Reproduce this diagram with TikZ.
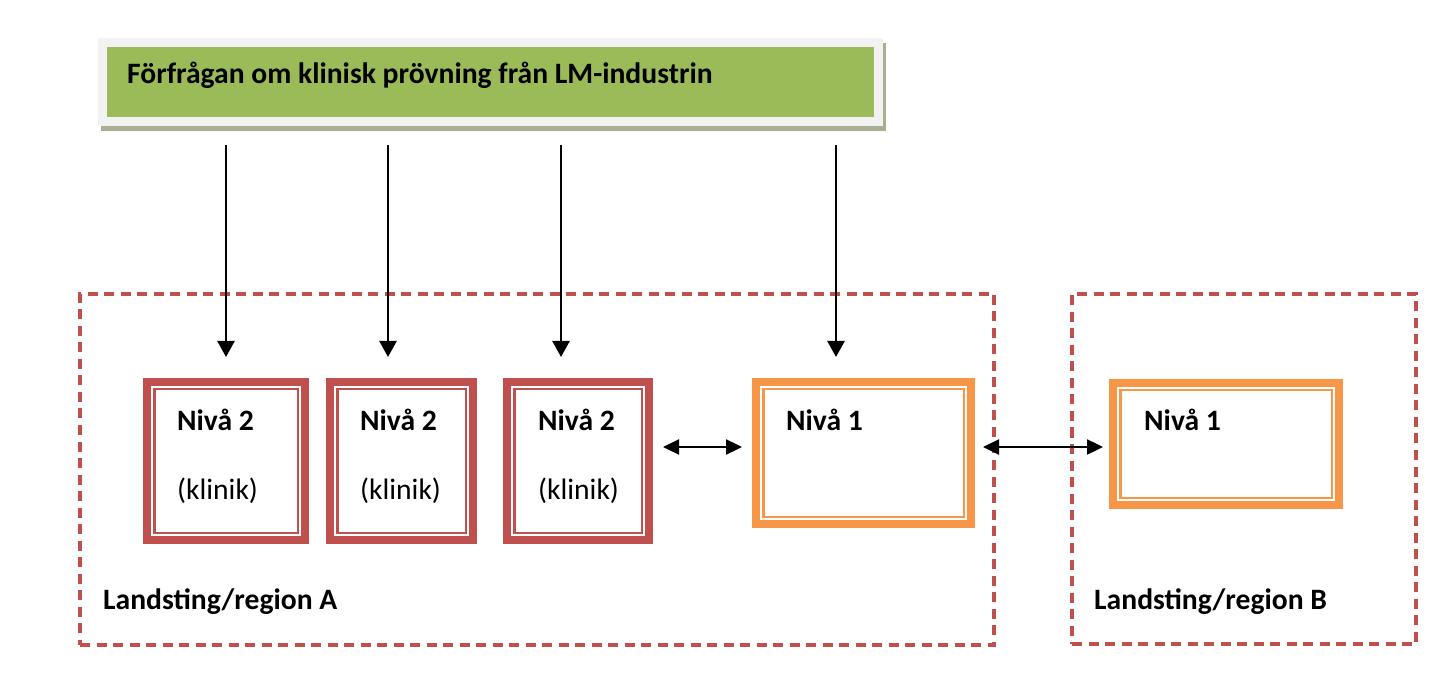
\documentclass[tikz,border=0pt]{standalone}
\usepackage{fontspec}
\setmainfont{Carlito}
\usetikzlibrary{arrows.meta,calc}
\definecolor{cred}{HTML}{C0504D}
\definecolor{corange}{HTML}{F79646}
\definecolor{cgreen}{HTML}{9BBB59}
\definecolor{cframe}{HTML}{F2F2F2}
\definecolor{cshadow}{HTML}{A8B091}
\begin{document}
\begin{tikzpicture}[x=1pt,y=-1pt,
  lbl/.style={inner sep=0pt, anchor=base west, font=\fontsize{29.6}{34}\selectfont},
  blbl/.style={lbl, font=\fontsize{29.6}{34}\selectfont\bfseries},
  tbox/.style={draw=#1, line width=8pt, fill=white, inner sep=0pt,
    path picture={\draw[#1, line width=2.5pt]
      ([xshift=7.25pt,yshift=-7.25pt]path picture bounding box.north west) rectangle
      ([xshift=-7.25pt,yshift=7.25pt]path picture bounding box.south east);}},
  region/.style={draw=cred, line width=3.5pt, dash pattern=on 10pt off 6.5pt, inner sep=0pt},
  varrow/.style={line width=2.4pt, -{Triangle[length=16pt,width=17pt]}},
  darrow/.style={line width=2.4pt, {Triangle[length=16pt,width=15pt]}-{Triangle[length=16pt,width=15pt]}}
]
\useasboundingbox (0,0) rectangle (1446,684);

% top request box
\fill[cshadow] (101,43) rectangle (886,131);
\fill[cframe] (98,38) rectangle (883,126);
\node[fill=cgreen, inner sep=0pt, minimum width=767pt, minimum height=70pt] (top) at (490.5,82) {};
\node[blbl] (toptxt) at (127,84) {Förfrågan om klinisk prövning från LM-industrin};

% regions
\node[region, minimum width=914pt, minimum height=351pt] (regA) at (537,469.5) {};
\node[region, minimum width=344pt, minimum height=350pt] (regB) at (1244,469) {};

% boxes
\node[tbox=cred, minimum width=158pt, minimum height=158pt] (n2a) at (226,461) {};
\node[tbox=cred, minimum width=143pt, minimum height=158pt] (n2b) at (401.5,461) {};
\node[tbox=cred, minimum width=142pt, minimum height=158pt] (n2c) at (578,461) {};
\node[tbox=corange, minimum width=215pt, minimum height=142pt] (n1a) at (863.5,453) {};
\node[tbox=corange, minimum width=226pt, minimum height=122pt] (n1b) at (1226,444) {};

% texts
\node[blbl] (t2a) at (177,431) {Nivå 2};
\node[lbl] (k2a) at (177,499) {(klinik)};
\node[blbl] (t2b) at (360,431) {Nivå 2};
\node[lbl] (k2b) at (360,499) {(klinik)};
\node[blbl] (t2c) at (538,431) {Nivå 2};
\node[lbl] (k2c) at (538,499) {(klinik)};
\node[blbl] (t1a) at (786,431) {Nivå 1};
\node[blbl] (t1b) at (1144,431) {Nivå 1};
\node[blbl] (lA) at (103,609) {Landsting/region A};
\node[blbl] (lB) at (1094,609) {Landsting/region B};

% arrow coordinates
\coordinate (s1) at (226,145); \coordinate (e1) at (226,357);
\coordinate (s2) at (388,145); \coordinate (e2) at (388,357);
\coordinate (s3) at (561,145); \coordinate (e3) at (561,357);
\coordinate (s4) at (836,145); \coordinate (e4) at (836,357);
\draw[varrow] (s1) -- (e1);
\draw[varrow] (s2) -- (e2);
\draw[varrow] (s3) -- (e3);
\draw[varrow] (s4) -- (e4);

\coordinate (d1) at (663,447); \coordinate (d2) at (742,447);
\coordinate (d3) at (983,447); \coordinate (d4) at (1103,447);
\draw[darrow] (d1) -- (d2);
\draw[darrow] (d3) -- (d4);
\end{tikzpicture}
\end{document}
